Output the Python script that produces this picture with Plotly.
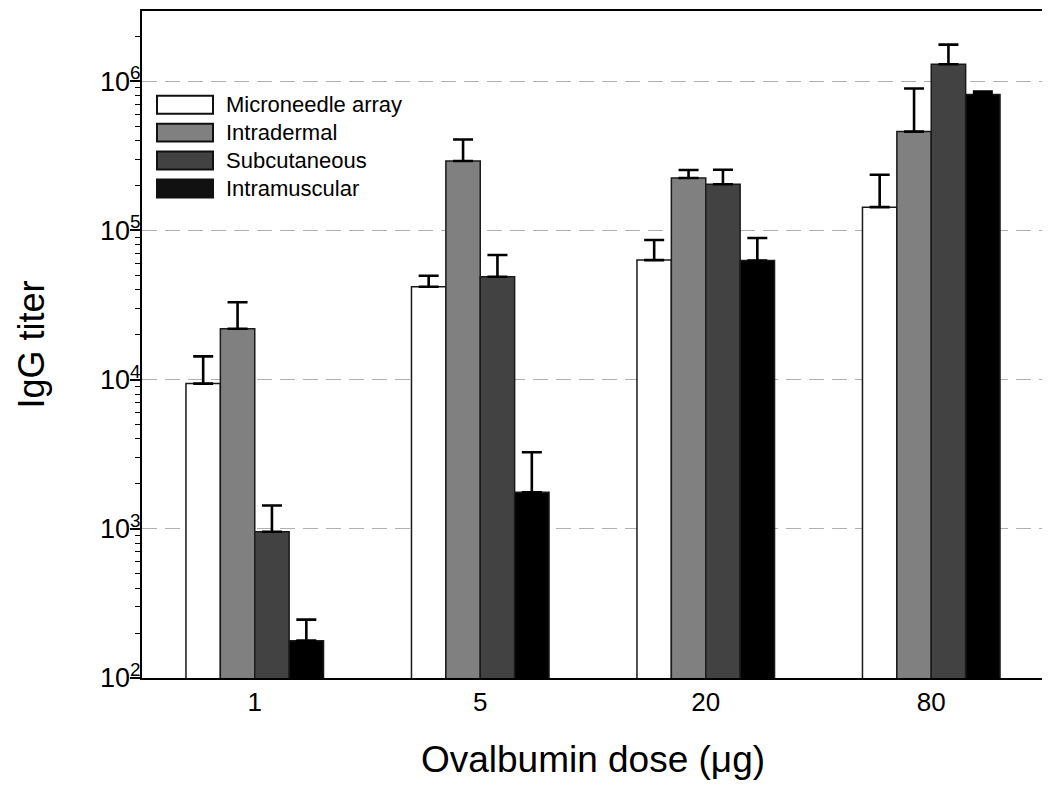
import plotly.graph_objects as go

doses = ["1", "5", "20", "80"]
series_names = ["Microneedle array", "Intradermal", "Subcutaneous", "Intramuscular"]
microneedle = [9400, 41900, 63200, 143000]
microneedle_hi = [14300, 49600, 86100, 236000]
intradermal = [21900, 291600, 224500, 459000]
intradermal_hi = [33000, 406000, 254000, 893000]
subcutaneous = [955, 48900, 203600, 1298000]
subcutaneous_hi = [1432, 68400, 254700, 1757000]
intramuscular = [178, 1757, 62800, 815000]
intramuscular_hi = [246, 3260, 88900, 851000]
ytick_vals = [1e2, 1e3, 1e4, 1e5, 1e6]
ytick_text = ["10<sup>2</sup>", "10<sup>3</sup>", "10<sup>4</sup>", "10<sup>5</sup>", "10<sup>6</sup>"]

colors = ["#ffffff", "#808080", "#424242", "#000000"]
swatch_colors = ["#ffffff", "#808080", "#424242", "#111111"]
values = [microneedle, intradermal, subcutaneous, intramuscular]
highs = [microneedle_hi, intradermal_hi, subcutaneous_hi, intramuscular_hi]

FONT = "Liberation Sans, Arial, sans-serif"
# page body has an 8px margin; figure is sized so that it fills the window
OFF = 8
W, H = 1050 - OFF, 786 - OFF
L, R, T, B = 142 - OFF, 6, 9 - OFF, 108

fig = go.Figure()
for name, vals, hi, col in zip(series_names, values, highs, colors):
    fig.add_trace(go.Bar(
        x=doses, y=vals, name=name,
        marker=dict(color=col, line=dict(color="#1a1a1a", width=1.5)),
        error_y=dict(type="data", symmetric=False,
                     array=[h - v for h, v in zip(hi, vals)],
                     arrayminus=[0] * len(vals),
                     color="black", thickness=2.6, width=10),
        showlegend=False,
    ))

# manual legend (wide swatches like the original); coordinates in window pixels
pw, ph = W - L - R, H - T - B
def px(x):
    return (x - OFF - L) / pw
def py(y):
    return 1 - (y - OFF - T) / ph

rows = [(94, 112), (122, 140), (150, 168), (178, 196)]
shapes = []
annotations = []
for (y0, y1), name, col in zip(rows, series_names, swatch_colors):
    shapes.append(dict(type="rect", xref="paper", yref="paper",
                       x0=px(157), x1=px(213), y0=py(y1), y1=py(y0),
                       fillcolor=col, line=dict(color="#111111", width=2)))
    annotations.append(dict(xref="paper", yref="paper", x=px(224), y=py((y0 + y1) / 2),
                            text=name, showarrow=False, xanchor="left", yanchor="middle",
                            font=dict(family=FONT, size=22, color="black")))

fig.update_layout(
    width=W, height=H,
    margin=dict(l=L, r=R, t=T, b=B),
    paper_bgcolor="white", plot_bgcolor="white",
    barmode="group", bargap=0.39, bargroupgap=0,
    shapes=shapes, annotations=annotations,
    font=dict(family=FONT, color="black"),
)
fig.update_xaxes(
    showline=True, linecolor="black", linewidth=2, mirror=True,
    ticks="", tickfont=dict(size=26, family=FONT),
    title=dict(text="Ovalbumin dose (\u03bcg)", font=dict(size=37, family=FONT), standoff=30),
)
fig.update_yaxes(
    type="log", range=[2, 6.47],
    showline=True, linecolor="black", linewidth=2, mirror=True,
    ticks="outside", ticklen=10, tickwidth=2, tickcolor="black",
    ticklabelstandoff=-16,
    tickvals=ytick_vals, ticktext=ytick_text, tickfont=dict(size=27, family=FONT),
    minor=dict(ticks="outside", ticklen=5, tickwidth=1, tickcolor="black", dtick="D1", showgrid=False),
    showgrid=True, gridcolor="#b0b0b0", gridwidth=1, griddash="15px,8px",
    zeroline=False,
    title=dict(text="IgG titer", font=dict(size=36, family=FONT), standoff=44),
)
fig.write_html("out.html")
